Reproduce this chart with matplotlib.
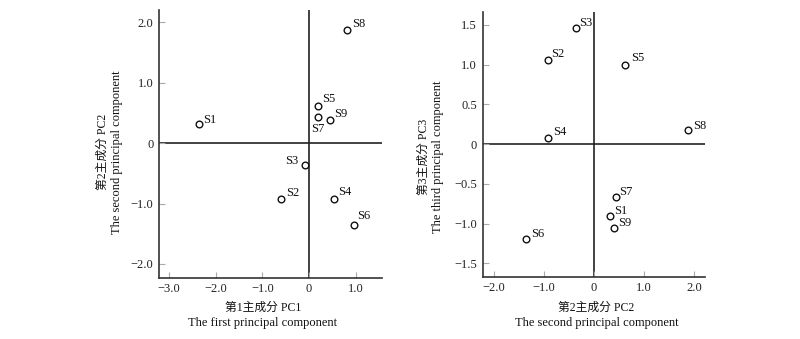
import matplotlib
matplotlib.use("Agg")
import matplotlib.pyplot as plt

samples = ["S1", "S2", "S3", "S4", "S5", "S6", "S7", "S8", "S9"]
pc1 = [-2.35, -0.61, -0.09, 0.53, 0.19, 0.97, 0.19, 0.82, 0.44]
pc2 = [0.31, -0.93, -0.37, -0.92, 0.61, -1.36, 0.44, 1.88, 0.39]
pc3 = [-0.90, 1.06, 1.455, 0.08, 1.00, -1.19, -0.67, 0.18, -1.05]

left_xticks = [-3.0, -2.0, -1.0, 0.0, 1.0]
left_yticks = [-2.0, -1.0, 0.0, 1.0, 2.0]
right_xticks = [-2.0, -1.0, 0.0, 1.0, 2.0]
right_yticks = [-1.5, -1.0, -0.5, 0.0, 0.5, 1.0, 1.5]

left_xlabel = ["第1主成分 PC1", "The first principal component"]
left_ylabel = ["第2主成分 PC2", "The second principal component"]
right_xlabel = ["第2主成分 PC2", "The second principal component"]
right_ylabel = ["第3主成分 PC3", "The third principal component"]

# label offsets in pixels (dx, dy up), ha
left_off = {"S1": (4, 4, "left"), "S2": (5.3, 6.7, "left"), "S3": (-6.7, 4.3, "right"),
            "S4": (4.6, 6.6, "left"), "S5": (4, 7.7, "left"), "S6": (2.4, 9.3, "left"),
            "S7": (0.3, -12.3, "center"), "S8": (4.5, 6, "left"), "S9": (5, 5.7, "left")}
right_off = {"S1": (5, 5, "left"), "S2": (4, 5.7, "left"), "S3": (3.7, 5.3, "left"),
             "S4": (4.7, 5.6, "left"), "S5": (6.7, 6.6, "left"), "S6": (5.3, 4.3, "left"),
             "S7": (3.6, 5, "left"), "S8": (5, 3.6, "left"), "S9": (5, 4.3, "left")}

FAM = ["Liberation Serif", "Noto Sans CJK SC"]
plt.rcParams["font.family"] = FAM
plt.rcParams["axes.unicode_minus"] = True

W, H = 800, 339
fig = plt.figure(figsize=(8, 3.39), dpi=100)

def fmt(v):
    if v == 0:
        return "0"
    s = f"{abs(v):.1f}"
    return ("\u2212" + s) if v < 0 else s

def panel(rect, x, y, xt, yt, xlim, ylim, offs, xlab, ylab, xlab_pos, ylab_pos):
    l, b, r, t = rect
    ax = fig.add_axes([l / W, 1 - b / H, (r - l) / W, (b - t) / H])
    ax.set_xlim(*xlim)
    ax.set_ylim(*ylim)
    for s in ["top", "right"]:
        ax.spines[s].set_visible(False)
    for s in ["left", "bottom"]:
        ax.spines[s].set_color("#333333")
        ax.spines[s].set_linewidth(1.2)
    ax.axhline(0, color="#222222", lw=1.2, zorder=1)
    ax.axvline(0, color="#222222", lw=1.2, zorder=1)
    ax.set_xticks(xt)
    ax.set_xticklabels([fmt(v) for v in xt])
    ax.set_yticks(yt)
    ax.set_yticklabels([fmt(v) for v in yt])
    ax.tick_params(direction="in", length=4, width=0.8, color="#aaaaaa",
                   labelsize=9, labelcolor="#222222", pad=4)
    ax.plot(x, y, linestyle="none", marker="o", ms=4.8, mfc="white",
            mec="#111111", mew=1.0, zorder=3)
    for name, xi, yi in zip(samples, x, y):
        dx, dy, ha = offs[name]
        ax.annotate(name, (xi, yi), xytext=(dx * 0.72, dy * 0.72),
                    textcoords="offset points", ha=ha, va="center",
                    fontsize=9, color="#111111")
    cx, y1, y2 = xlab_pos
    fig.text(cx / W, 1 - y1 / H, xlab[0], ha="center", va="center", fontsize=8.5, color="#111111")
    fig.text(cx / W, 1 - y2 / H, xlab[1], ha="center", va="center", fontsize=9, color="#111111")
    x1, x2, cy = ylab_pos
    fig.text(x1 / W, 1 - cy / H, ylab[0], ha="center", va="center", rotation=90, fontsize=8.5, color="#111111")
    fig.text(x2 / W, 1 - cy / H, ylab[1], ha="center", va="center", rotation=90, fontsize=9, color="#111111")
    return ax

panel((159, 277.7, 382, 10), pc1, pc2, left_xticks, left_yticks,
      (-3.214, 1.564), (-2.227, 2.203), left_off, left_xlabel, left_ylabel,
      (263, 308, 323), (102.5, 117, 152))
panel((482.7, 276.7, 705, 11.7), pc2, pc3, right_xticks, right_yticks,
      (-2.226, 2.22), (-1.668, 1.664), right_off, right_xlabel, right_ylabel,
      (596.6, 308, 323), (424, 438, 157))

fig.savefig("out.png", dpi=100, facecolor="white")
